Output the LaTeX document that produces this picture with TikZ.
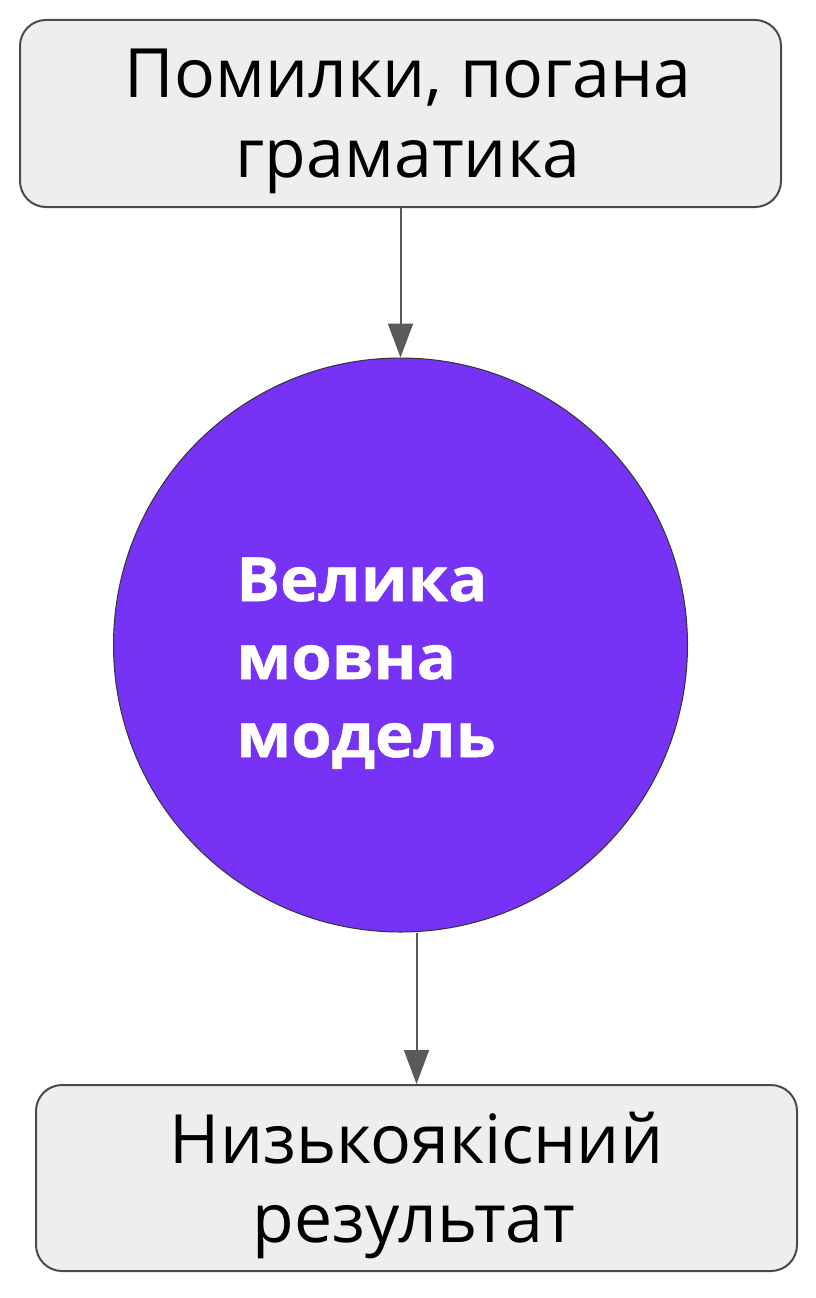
\documentclass[tikz,border=0pt]{standalone}
\usepackage{fontspec}
\setmainfont{Open Sans}
\newfontfamily\boldfont{Open Sans}[FakeStretch=1.07, BoldFeatures={FakeStretch=1.07, FakeBold=0.8}]
\usetikzlibrary{arrows.meta}
\definecolor{boxfill}{HTML}{EEEEEE}
\definecolor{boxline}{HTML}{4A4A4A}
\definecolor{llm}{HTML}{7733F5}
\definecolor{arrowc}{HTML}{5A5A5A}
\tikzset{
  box/.style={draw=boxline, line width=2pt, fill=boxfill, rounded corners=26pt,
    minimum width=761pt, minimum height=187pt, inner sep=0pt},
  boxtext/.style={anchor=base, inner sep=0pt, font=\fontsize{68}{80}\selectfont, text=black},
  circtext/.style={anchor=base west, inner sep=0pt, font=\boldfont\bfseries\fontsize{61}{78}\selectfont, text=white},
  arr/.style={draw=arrowc, line width=2pt, -{Triangle[width=25pt,length=34pt,fill=arrowc]}}
}
\begin{document}
\begin{tikzpicture}[x=1pt,y=-1pt]
\useasboundingbox (0,0) rectangle (816,1298);
\node[box] (top) at (400.5,113.5) {};
\node[boxtext] (t1) at (408,97) {Помилки, погана};
\node[boxtext] (t2) at (408,177) {граматика};
\node[circle, draw=black!80, line width=1pt, fill=llm, minimum size=574pt, inner sep=0pt] (llm) at (400.5,645) {};
\node[circtext] (c1) at (236,601) {Велика};
\node[circtext] (c2) at (236,679) {мовна};
\node[circtext] (c3) at (236,757) {модель};
\node[box, minimum width=761pt, minimum height=186pt] (bot) at (416.5,1178) {};
\node[boxtext] (b1) at (416.5,1163) {Низькоякісний};
\node[boxtext] (b2) at (414,1242) {результат};
\draw[arr] (top.south) -- (llm.north);
\draw[arr] (llm.south -| bot.north) -- (bot.north);
\end{tikzpicture}
\end{document}
